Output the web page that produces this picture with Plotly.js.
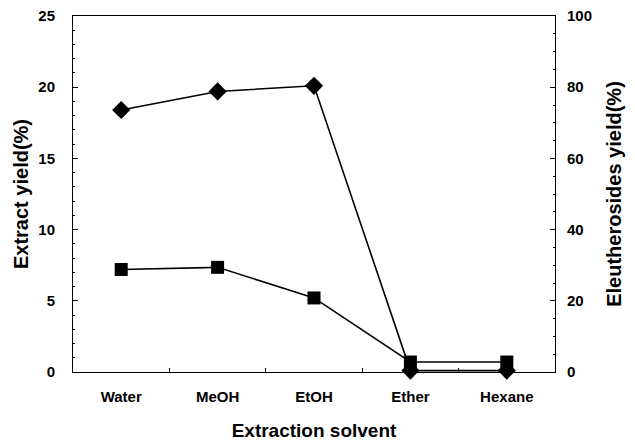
<!DOCTYPE html>
<html>
<head>
<meta charset="utf-8">
<script src="https://cdn.plot.ly/plotly-3.0.1.min.js"></script>
<style>html,body{margin:0;padding:0;background:#fff;}#chart{width:635px;height:441px;}</style>
</head>
<body>
<div id="chart"></div>
<script>
var solvents = ["Water", "MeOH", "EtOH", "Ether", "Hexane"];
var extractYield = [7.2, 7.35, 5.2, 0.7, 0.7];
var eleutherosidesYield = [73.6, 78.8, 80.4, 0.4, 0.4];

var fam = "Liberation Sans, Arial, sans-serif";
var tickFont = {family: fam, size: 15, color: "#000", weight: "bold"};

var traces = [
  {
    x: solvents, y: extractYield, type: "scatter", mode: "lines+markers",
    yaxis: "y", cliponaxis: false,
    line: {color: "#000", width: 1.6},
    marker: {symbol: "square", size: 13, color: "#000"},
    showlegend: false
  },
  {
    x: solvents, y: eleutherosidesYield, type: "scatter", mode: "lines+markers",
    yaxis: "y2", cliponaxis: false,
    line: {color: "#000", width: 1.6},
    marker: {symbol: "diamond", size: 14, color: "#000"},
    showlegend: false
  }
];

var layout = {
  width: 635, height: 441,
  margin: {l: 73, r: 80, t: 16, b: 69},
  paper_bgcolor: "#fff", plot_bgcolor: "#fff",
  font: {family: fam, color: "#000"},
  xaxis: {
    type: "category", range: [-0.5, 4.5],
    showline: true, linecolor: "#000", linewidth: 1, mirror: true,
    ticks: "inside", tickson: "boundaries", ticklen: 4, tickcolor: "#000",
    showgrid: false, zeroline: false,
    tickfont: tickFont, ticklabelstandoff: 11,
    title: {text: "Extraction solvent", standoff: 20,
            font: {family: fam, size: 19, color: "#000", weight: "bold"}}
  },
  yaxis: {
    range: [0, 25], dtick: 5,
    showline: true, linecolor: "#000", linewidth: 1,
    ticks: "inside", ticklen: 5, tickcolor: "#000",
    minor: {dtick: 1, ticks: "inside", ticklen: 2, tickcolor: "#000", showgrid: false},
    showgrid: false, zeroline: false,
    tickfont: tickFont, ticklabelstandoff: 14,
    title: {text: "Extract yield(%)", standoff: 4,
            font: {family: fam, size: 20, color: "#000", weight: "bold"}}
  },
  yaxis2: {
    overlaying: "y", side: "right", range: [0, 100], dtick: 20,
    showline: true, linecolor: "#000", linewidth: 1,
    ticks: "inside", ticklen: 5, tickcolor: "#000",
    minor: {dtick: 5, ticks: "inside", ticklen: 2, tickcolor: "#000", showgrid: false},
    showgrid: false, zeroline: false,
    tickfont: tickFont, ticklabelstandoff: 8,
    title: {text: "Eleutherosides yield(%)", standoff: 15,
            font: {family: fam, size: 20, color: "#000", weight: "bold"}}
  }
};

Plotly.newPlot("chart", traces, layout, {staticPlot: true, displayModeBar: false});
</script>
</body>
</html>
